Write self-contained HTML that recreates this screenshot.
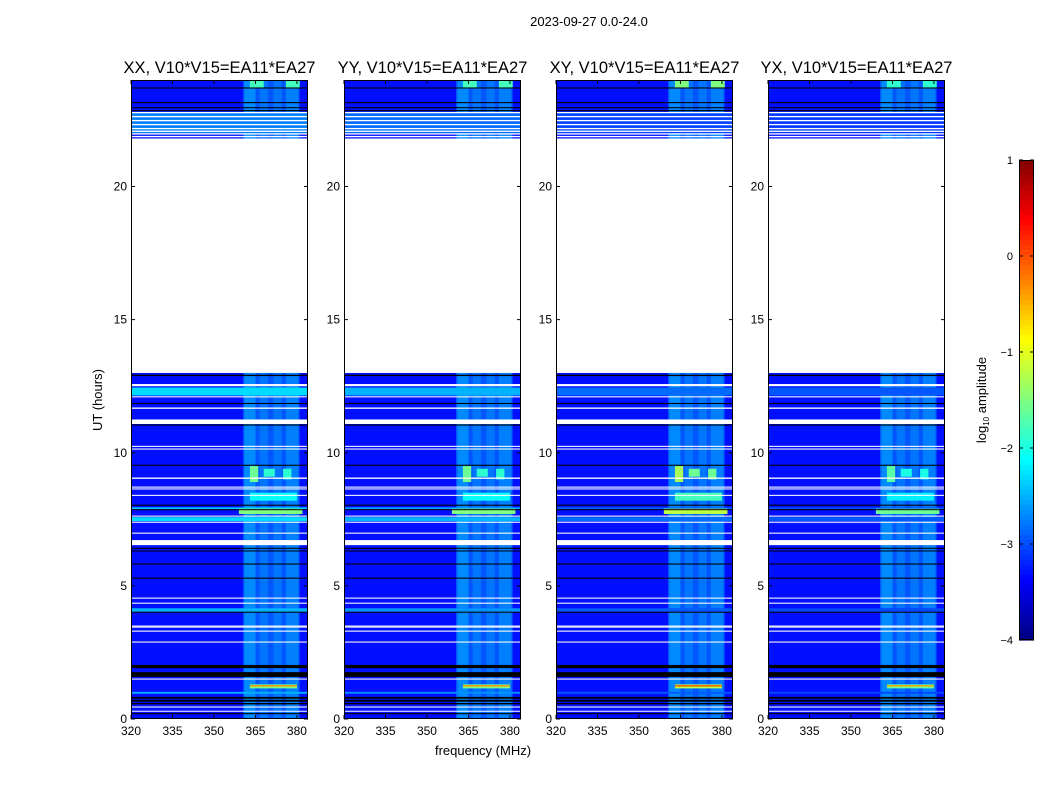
<!DOCTYPE html>
<html><head><meta charset="utf-8"><style>
body{margin:0;background:#fff;}
svg text{font-family:"Liberation Sans",sans-serif;fill:#000;}
</style></head><body>
<svg id="fig" width="1050" height="800" xmlns="http://www.w3.org/2000/svg">
<text x="589" y="26" font-size="13" text-anchor="middle">2023-09-27 0.0-24.0</text>
<text x="102" y="400" font-size="13" text-anchor="middle" transform="rotate(-90 102 400)">UT (hours)</text>
<text x="483" y="755" font-size="13" text-anchor="middle">frequency (MHz)</text>
<g id="panels"></g>
<g id="cbar"></g>
</svg>
<script>
const NS="http://www.w3.org/2000/svg";
const panelTitles=["XX, V10*V15=EA11*EA27","YY, V10*V15=EA11*EA27","XY, V10*V15=EA11*EA27","YX, V10*V15=EA11*EA27"];
const panelLefts=[131,344,556,768];
const broadbandScale=[1,0.8,0.45,0.35];
const patchBoost=[0,0,0.3,-0.1];
const yTicks=[0,5,10,15,20];
const xTicks=[320,335,350,365,380];
const dataRanges=[[0,13],[21.8,24]];
const backgroundLevel=-3.3;
const spectralColumns=[[360.5,381,-2.95],[361,365,-2.7],[366.5,369.5,-2.8],[371.5,374.5,-2.8],[376,380.5,-2.75]];
const broadbandBands=[[12.15,12.45,-2.3],[7.88,7.95,-2.4],[7.43,7.58,-2.3],[4.02,4.16,-2.5],[0.95,1.02,-2.5],[22.0,22.8,-2.75]];
const patches=[[8.9,9.5,363,366,-1.6],[9.1,9.4,368,372,-1.9],[9.0,9.4,375,378,-1.9],[8.2,8.5,363,380,-2.1],[7.7,7.9,359,382,-1.5],[1.15,1.3,363,380,-1.5],[1.22,1.27,363,380,-0.3],[23.7,24,363,368,-1.8],[23.7,24,376,381,-1.8]];
const whiteGaps=[[13,21.8],[21.85,21.9],[21.95,22.0],[22.05,22.1],[22.15,22.2],[22.3,22.35],[22.45,22.5],[22.6,22.65],[22.75,22.8],[12.5,12.58],[12.08,12.12],[11.65,11.7],[11.08,11.25],[10.12,10.16],[10.22,10.26],[9.02,9.07],[8.62,8.66],[8.69,8.73],[8.38,8.42],[7.6,7.64],[7.37,7.41],[6.96,7.0],[6.53,6.72],[4.52,4.56],[4.33,4.37],[3.44,3.47],[3.48,3.51],[3.28,3.32],[2.87,2.91],[1.48,1.52],[0.43,0.47],[0.28,0.31]];
const blackFlags=[[23.68,23.72],[23.13,23.17],[22.94,22.98],[22.83,22.87],[12.88,12.93],[11.83,11.87],[11.02,11.06],[9.51,9.55],[8.01,8.05],[7.86,7.88],[6.4,6.43],[6.3,6.33],[5.8,5.84],[5.27,5.31],[4.0,4.03],[1.91,2.03],[1.58,1.76],[0.55,0.6],[0.65,0.72],[0.76,0.83],[0.18,0.22]];
const cbarTicks=[1,0,-1,-2,-3,-4];

const PW=177,TOP=80,BOT=719,FMIN=320,FMAX=384,TMAX=24;
function yOf(t){return BOT-(t/TMAX)*(BOT-TOP);}
function clip(v){return Math.max(0,Math.min(1,v));}
function jet(L){const x=clip((L+4)/5);const r=clip(1.5-Math.abs(4*x-3)),g=clip(1.5-Math.abs(4*x-2)),b=clip(1.5-Math.abs(4*x-1));return `rgb(${Math.round(r*255)},${Math.round(g*255)},${Math.round(b*255)})`;}
function mk(tag,attrs,parent){const e=document.createElementNS(NS,tag);for(const k in attrs)e.setAttribute(k,attrs[k]);parent.appendChild(e);return e;}

const root=document.getElementById('panels');
panelTitles.forEach((title,p)=>{
  const L=panelLefts[p];
  const xOf=f=>L+(f-FMIN)/(FMAX-FMIN)*PW;
  const g=mk('g',{},root);
  
  
  const clipId='c'+p;
  const cp=mk('clipPath',{id:clipId},g);mk('rect',{x:L,y:TOP,width:PW,height:BOT-TOP},cp);
  const hm=mk('g',{'clip-path':`url(#${clipId})`},g);
  
  
  dataRanges.forEach(([a,b])=>{
    const r=mk('rect',{x:L,y:yOf(b),width:PW,height:yOf(a)-yOf(b),fill:jet(backgroundLevel)},hm);
    
    
    spectralColumns.forEach(([f0,f1,lv])=>{
      const c=mk('rect',{x:xOf(f0),y:yOf(b),width:xOf(f1)-xOf(f0),height:yOf(a)-yOf(b),fill:jet(lv)},hm);
      
      
    });
  });
  broadbandBands.forEach(([a,b,lv])=>{
    const lvl=backgroundLevel+(lv-backgroundLevel)*broadbandScale[p];
    const c=mk('rect',{x:L,y:yOf(b),width:PW,height:yOf(a)-yOf(b),fill:jet(lvl)},hm);
    
    
  });
  patches.forEach(([a,b,f0,f1,lv])=>{
    const c=mk('rect',{x:xOf(f0),y:yOf(b),width:xOf(f1)-xOf(f0),height:yOf(a)-yOf(b),fill:jet(lv+patchBoost[p])},hm);
    
    
  });
  whiteGaps.forEach(([a,b])=>{
    const c=mk('rect',{x:L,y:yOf(b),width:PW,height:Math.max(1,yOf(a)-yOf(b)),fill:'#fff'},hm);
    
    
  });
  blackFlags.forEach(([a,b])=>{
    const c=mk('rect',{x:L,y:yOf(b),width:PW,height:Math.max(1,yOf(a)-yOf(b)),fill:'#000'},hm);
    
    
  });
  const fr=mk('rect',{x:L+0.5,y:TOP+0.5,width:PW-1,height:BOT-TOP-1,fill:'none',stroke:'#000','stroke-width':1},g);
  
  
  const tt=mk('text',{x:L+PW/2,y:TOP-7,'font-size':16.5,'text-anchor':'middle'},g);
  tt.textContent=title;
  
  
  yTicks.forEach(t=>{
    const y=yOf(t);
    mk('line',{x1:L,x2:L+4,y1:y,y2:y,stroke:'#000'},g);
    mk('line',{x1:L+PW-4,x2:L+PW,y1:y,y2:y,stroke:'#000'},g);
    const lb=mk('text',{x:L-4,y:y+4,'font-size':12,'text-anchor':'end'},g);
    lb.textContent=t;
    
    
  });
  xTicks.forEach(f=>{
    const x=xOf(f);
    mk('line',{x1:x,x2:x,y1:BOT,y2:BOT-4,stroke:'#000'},g);
    mk('line',{x1:x,x2:x,y1:TOP,y2:TOP+4,stroke:'#000'},g);
    const lb=mk('text',{x:x,y:BOT+16,'font-size':12,'text-anchor':'middle'},g);
    lb.textContent=f;
    
    
  });
});

const cb=document.getElementById('cbar');
const CX=1019,CW=15,CT=160,CB=640;
const cbY=v=>CT+(1-v)/5*(CB-CT);
for(let i=0;i<96;i++){
  const v=1-(i+0.5)*5/96;
  const r=mk('rect',{x:CX,y:CT+i*(CB-CT)/96,width:CW,height:(CB-CT)/96+0.6,fill:jet(v)},cb);
  
  
}
mk('rect',{x:CX+0.5,y:CT+0.5,width:CW-1,height:CB-CT-1,fill:'none',stroke:'#000'},cb);
cbarTicks.forEach(v=>{
  const y=cbY(v);
  mk('line',{x1:CX,x2:CX+4,y1:y,y2:y,stroke:'#000'},cb);
  mk('line',{x1:CX+CW-4,x2:CX+CW,y1:y,y2:y,stroke:'#000'},cb);
  const lb=mk('text',{x:1013,y:y+4,'font-size':11,'text-anchor':'end'},cb);
  lb.textContent=v<0?'\u2212'+(-v):String(v);
  
  
});
const cl=mk('text',{x:986,y:400,'font-size':13,'text-anchor':'middle',transform:'rotate(-90 986 400)'},cb);
cl.innerHTML='log<tspan font-size="8" dy="3">10</tspan><tspan dy="-3"> amplitude</tspan>';


</script>
</body></html>
